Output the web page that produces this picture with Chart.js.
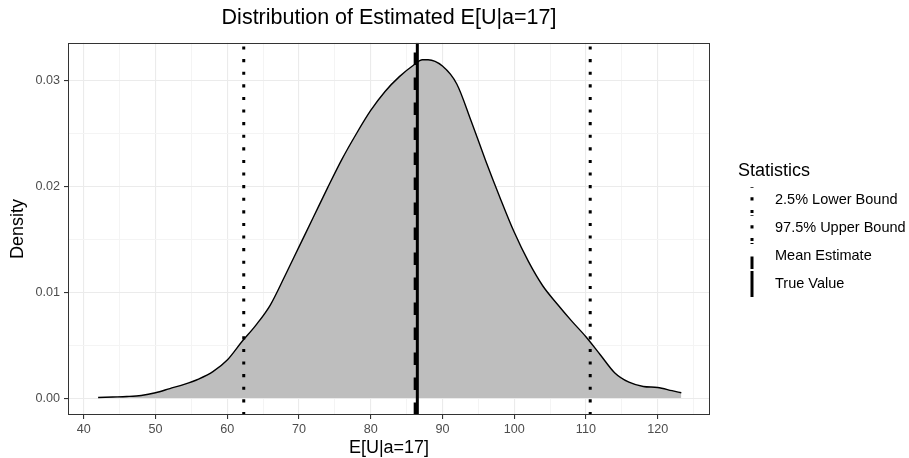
<!DOCTYPE html>
<html>
<head>
<meta charset="utf-8">
<script src="https://cdn.jsdelivr.net/npm/chart.js@4.4.0/dist/chart.umd.min.js"></script>
<style>
  html, body { margin: 0; padding: 0; background: #fff; }
  #wrap { width: 909px; height: 458px; }
</style>
</head>
<body>
<div id="wrap"><canvas id="densityChart" width="909" height="458"></canvas></div>
<script>
// density curve of the estimates
var estimates = [42, 44, 46, 48, 50, 52, 54, 56, 58, 60, 62, 64, 66, 68, 70, 72, 74, 76, 78, 80,
                 82, 84, 86, 87.2, 88, 90, 92, 94, 96, 98, 100, 102, 104, 106, 108, 110, 112, 114,
                 116, 118, 120, 122, 123.3];
var density = [0.00005, 0.0001, 0.00015, 0.00025, 0.0005, 0.0009, 0.0013, 0.0018, 0.0025, 0.0036,
               0.0053, 0.0069, 0.0088, 0.0115, 0.0143, 0.0171, 0.0199, 0.0226, 0.0250, 0.0272,
               0.0290, 0.0304, 0.0315, 0.0320, 0.0320, 0.0314, 0.0297, 0.0262, 0.0225, 0.0190,
               0.0157, 0.0129, 0.0106, 0.0089, 0.0073, 0.0058, 0.0041, 0.0024, 0.0015, 0.0011,
               0.0010, 0.0007, 0.0005];

// vertical reference lines
var statLabels = ["2.5% Lower Bound", "97.5% Upper Bound", "Mean Estimate", "True Value"];
var statValues = [62.3, 110.6, 86.2, 86.5];
var statDashes = [[3.1, 9.5], [3.1, 9.5], [12.5, 12.5], []];

var xTicks = [40, 50, 60, 70, 80, 90, 100, 110, 120];
var yTicks = [0, 0.01, 0.02, 0.03];

var xMin = 37.8, xMax = 127.3;
var yMin = -0.0016, yMax = 0.0336;

function near(v, list, eps) {
    for (var i = 0; i < list.length; i++) {
        if (Math.abs(list[i] - v) < eps) return true;
    }
    return false;
}

// major ticks plus the minor ones halfway between
function withMinor(list, lo, hi) {
    var step = list[1] - list[0];
    var out = [];
    for (var v = list[0] - step / 2; v <= hi; v += step / 2) {
        if (v >= lo) out.push({ value: +v.toFixed(6) });
    }
    return out;
}

var curvePoints = estimates.map(function (x, i) { return { x: x, y: density[i] }; });

var datasets = [{
    label: "density",
    data: curvePoints,
    order: 10,
    borderColor: "#000000",
    borderWidth: 1.4,
    backgroundColor: "#BEBEBE",
    fill: "origin",
    pointRadius: 0,
    cubicInterpolationMode: "monotone"
}];

// lower order is drawn later (on top), so True Value ends up above Mean Estimate
statValues.forEach(function (v, i) {
    datasets.push({
        label: statLabels[i],
        data: [{ x: v, y: yMin }, { x: v, y: yMax }],
        order: 5 - i,
        borderColor: "#000000",
        borderWidth: 3,
        borderDash: statDashes[i],
        borderCapStyle: "butt",
        pointRadius: 0,
        fill: false
    });
});

var panelAndLegend = {
    id: "panelAndLegend",
    afterDatasetsDraw: function (chart) {
        var a = chart.chartArea, ctx = chart.ctx;
        ctx.save();
        ctx.strokeStyle = "#333333";
        ctx.lineWidth = 1;
        ctx.strokeRect(Math.round(a.left) + 0.5, Math.round(a.top) + 0.5,
                       Math.round(a.right - a.left) - 1, Math.round(a.bottom - a.top) - 1);
        ctx.restore();
    },
    afterDraw: function (chart) {
        var ctx = chart.ctx;
        ctx.save();
        ctx.fillStyle = "#000000";
        ctx.textBaseline = "middle";
        ctx.font = "18px 'Liberation Sans', Arial, sans-serif";
        ctx.fillText("Statistics", 738, 171);
        ctx.font = "14.5px 'Liberation Sans', Arial, sans-serif";
        statLabels.forEach(function (lab, i) {
            var ds = chart.data.datasets[i + 1];
            var cy = 200 + i * 28;
            ctx.fillText(lab, 775, cy);
            ctx.beginPath();
            ctx.strokeStyle = "#000000";
            ctx.lineWidth = ds.borderWidth;
            ctx.lineCap = "butt";
            ctx.setLineDash(ds.borderDash);
            ctx.moveTo(752, cy + 13);
            ctx.lineTo(752, cy - 13);
            ctx.stroke();
        });
        ctx.restore();
    }
};

var tickFont = { family: "'Liberation Sans', Arial, sans-serif", size: 12.6 };
var titleFont = { family: "'Liberation Sans', Arial, sans-serif", size: 18, lineHeight: 1 };

new Chart(document.getElementById("densityChart").getContext("2d"), {
    type: "line",
    data: { datasets: datasets },
    plugins: [panelAndLegend],
    options: {
        responsive: false,
        animation: false,
        layout: { padding: { left: 0, right: 199, top: 0, bottom: 0 } },
        plugins: {
            legend: { display: false },
            tooltip: { enabled: false },
            title: {
                display: true,
                fullSize: false,
                text: "Distribution of Estimated E[U|a=17]",
                color: "#000000",
                font: { family: "'Liberation Sans', Arial, sans-serif", size: 21.5, weight: "normal", lineHeight: 1.2 },
                padding: { top: 5, bottom: 12 }
            }
        },
        scales: {
            x: {
                type: "linear",
                min: xMin,
                max: xMax,
                afterBuildTicks: function (scale) { scale.ticks = withMinor(xTicks, xMin, xMax); },
                afterFit: function (scale) { scale.height = 43; },
                border: { display: false },
                grid: {
                    color: function (c) { return near(c.tick.value, xTicks, 1e-6) ? "#EBEBEB" : "#F4F4F4"; },
                    lineWidth: function (c) { return near(c.tick.value, xTicks, 1e-6) ? 1.1 : 1; },
                    tickColor: function (c) { return near(c.tick.value, xTicks, 1e-6) ? "#333333" : "rgba(0,0,0,0)"; },
                    tickLength: 4
                },
                ticks: {
                    autoSkip: false,
                    maxRotation: 0,
                    padding: 2.5,
                    color: "#4D4D4D",
                    font: tickFont,
                    callback: function (v) { return near(v, xTicks, 1e-6) ? String(v) : ""; }
                },
                title: {
                    display: true,
                    text: "E[U|a=17]",
                    color: "#000000",
                    font: titleFont,
                    padding: { top: 0, bottom: 1 }
                }
            },
            y: {
                type: "linear",
                min: yMin,
                max: yMax,
                afterBuildTicks: function (scale) { scale.ticks = withMinor(yTicks, yMin, yMax); },
                afterFit: function (scale) { scale.width = 68; },
                border: { display: false },
                grid: {
                    color: function (c) { return near(c.tick.value, yTicks, 1e-7) ? "#EBEBEB" : "#F4F4F4"; },
                    lineWidth: function (c) { return near(c.tick.value, yTicks, 1e-7) ? 1.1 : 1; },
                    tickColor: function (c) { return near(c.tick.value, yTicks, 1e-7) ? "#333333" : "rgba(0,0,0,0)"; },
                    tickLength: 4
                },
                ticks: {
                    autoSkip: false,
                    padding: 4,
                    color: "#4D4D4D",
                    font: tickFont,
                    callback: function (v) { return near(v, yTicks, 1e-7) ? v.toFixed(2) : ""; }
                },
                title: {
                    display: true,
                    text: "Density",
                    color: "#000000",
                    font: titleFont,
                    padding: { top: 9, bottom: 0 }
                }
            }
        }
    }
});
</script>
</body>
</html>
